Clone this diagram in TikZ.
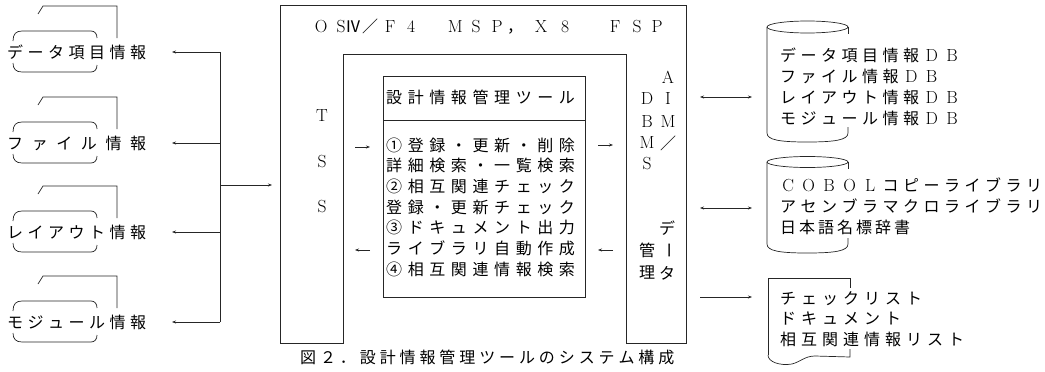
\documentclass[tikz,border=0pt]{standalone}
\usepackage{fontspec}
\newfontfamily\jp{Noto Sans CJK JP}
\usetikzlibrary{arrows.meta}
\newlength\pitch
\def\spcloop#1{\ifx\relax#1\else\makebox[\pitch][c]{#1}\expandafter\spcloop\fi}
\newcommand\spcline[2]{\setlength\pitch{#1pt}\spcloop#2\relax}
\newcommand\lt[1]{{\rmfamily\fontsize{17.5}{17.5}\selectfont #1}}
\newcommand\cw[2]{\makebox[#1pt][c]{#2}}
\newcommand\jpf{\jp\fontsize{16}{16}\selectfont}
% name, y, glyph start x, pitch, text
\newcommand\tline[5]{\node[txt,anchor=west] (#1) at ({#3-(#4-16)/2},#2) {\spcline{#4}{#5}};}
% name, y, pitch, text
\newcommand\leftitem[4]{%
  \draw[ln] (38,#2-38) -- (43,#2-46) -- (117,#2-46) -- (117,#2-14);
  \draw[ln] (13,#2-11) .. controls (13,#2-18) and (16,#2-21) .. (22,#2-21) -- (91,#2-21) .. controls (95,#2-21) and (97,#2-18) .. (97,#2-14);
  \draw[ln] (13,#2+11) .. controls (13,#2+17) and (16,#2+20) .. (22,#2+20) -- (91,#2+20) .. controls (95,#2+20) and (97,#2+17) .. (97,#2+13);
  \tline{#1}{#2}{7}{#3}{#4}%
}
\tikzset{
  ln/.style={line width=0.7pt, black!85},
  txt/.style={inner sep=0pt, font=\jpf, text=black},
  arr/.style={ln, -{Stealth[length=4pt,width=3pt]}},
  darr/.style={ln, {Stealth[length=4pt,width=3pt]}-{Stealth[length=4pt,width=3pt]}}
}
\begin{document}
\begin{tikzpicture}[x=1pt,y=-1pt]
\useasboundingbox (0,0) rectangle (1045,372);
% ---------- left items
\leftitem{li1}{52}{20.5}{データ項目情報}
\leftitem{li2}{143}{24.6}{ファイル情報}
\leftitem{li3}{232}{20.5}{レイアウト情報}
\leftitem{li4}{322}{20.5}{モジュール情報}
\coordinate (j1) at (220,52);
\coordinate (j2) at (220,143);
\coordinate (j3) at (220,232);
\coordinate (j4) at (220,322);
\coordinate (jm) at (220,185);
\coordinate (a1) at (172,52);
\coordinate (a2) at (172,143);
\coordinate (a3) at (172,232);
\coordinate (a4) at (172,322);
\coordinate (am) at (272,185);
\draw[ln] (j1) -- (j4);
\draw[arr] (j1) -- (a1);
\draw[arr] (j2) -- (a2);
\draw[arr] (j3) -- (a3);
\draw[arr] (j4) -- (a4);
\draw[arr] (jm) -- (am);
% ---------- central frame
\draw[ln] (280,5) -- (686,5) -- (686,343) -- (626,343) -- (626,54) -- (343,54) -- (343,343) -- (280,343) -- cycle;
\node[txt,anchor=west] (title) at (311,27) {\cw{20}{\lt O}\cw{20}{\lt S}\cw{4}{Ⅳ}\cw{30}{／}\cw{10}{\lt F}\cw{32}{\lt 4}\cw{18}{}\cw{20}{\lt M}\cw{22}{\lt S}\cw{20}{\lt P}\cw{16}{，}\cw{36}{\lt X}\cw{12}{\lt 8}\cw{34}{}\cw{20}{\lt F}\cw{24}{\lt S}\cw{16}{\lt P}};
% TSS
\node[txt] (t1) at (322,116) {\lt T};
\node[txt] (t2) at (322,162) {\lt S};
\node[txt] (t3) at (322,207) {\lt S};
% DBMS / AIM
\node[txt] (d1) at (647,99) {\lt D};
\node[txt] (d2) at (647,122) {\lt B};
\node[txt] (d3) at (647,143) {\lt M};
\node[txt] (d4) at (647,164) {\lt S};
\node[txt] (m1) at (668,77) {\lt A};
\node[txt] (m2) at (668,99) {\lt I};
\node[txt] (m3) at (668,122) {\lt M};
\node[txt] (m4) at (668,143) {／};
\node[txt] (k1) at (667,228) {デ};
\node[txt,rotate=-90] (k2) at (667,250) {ー};
\node[txt] (k3) at (667,273) {タ};
\node[txt] (k4) at (647,250) {管};
\node[txt] (k5) at (647,273) {理};
% inner tool box
\draw[ln] (383,76) rectangle (585,297);
\draw[ln] (383,120) -- (585,120);
\tline{hdr}{97}{386}{21.6}{設計情報管理ツール}
\tline{b1}{145}{386}{21.6}{①登録・更新・削除}
\tline{b2}{165.7}{386}{21.6}{詳細検索・一覧検索}
\tline{b3}{186.4}{386}{21.6}{②相互関連チェック}
\tline{b4}{207.1}{386}{21.6}{登録・更新チェック}
\tline{b5}{227.8}{386}{21.6}{③ドキュメント出力}
\tline{b6}{248.5}{386}{21.6}{ライブラリ自動作成}
\tline{b7}{269.2}{386}{21.6}{④相互関連情報検索}
% inner arrows
\coordinate (p1) at (355,147); \coordinate (p2) at (370,147);
\coordinate (p3) at (370,250); \coordinate (p4) at (355,250);
\coordinate (q1) at (598,145); \coordinate (q2) at (613,145);
\coordinate (q3) at (613,250); \coordinate (q4) at (598,250);
\draw[arr] (p1) -- (p2);
\draw[arr] (p3) -- (p4);
\draw[arr] (q1) -- (q2);
\draw[arr] (q3) -- (q4);
% caption
\tline{cap}{357}{300}{19.9}{図２．設計情報管理ツールのシステム構成}
% ---------- right side
\coordinate (r1a) at (700,97); \coordinate (r1b) at (752,97);
\coordinate (r2a) at (700,208); \coordinate (r2b) at (752,208);
\coordinate (r3a) at (700,297); \coordinate (r3b) at (752,297);
\draw[darr] (r1a) -- (r1b);
\draw[darr] (r2a) -- (r2b);
\draw[arr] (r3a) -- (r3b);
% cylinder 1
\draw[ln] (807.5,27) ellipse [x radius=40.5, y radius=6];
\draw[ln] (767,27) -- (767,133) .. controls (767,140) and (780,142) .. (807,142) .. controls (835,142) and (848,140) .. (848,133) -- (848,127);
\draw[ln] (848,27) -- (848,34);
\tline{c1}{55}{780}{20.5}{データ項目情報{\lt D}{\lt B}}
\tline{c2}{76}{780}{20.5}{ファイル情報{\lt D}{\lt B}}
\tline{c3}{97}{780}{20.5}{レイアウト情報{\lt D}{\lt B}}
\tline{c4}{118}{780}{20.5}{モジュール情報{\lt D}{\lt B}}
% cylinder 2
\draw[ln] (807.5,162) ellipse [x radius=40.5, y radius=5.5];
\draw[ln] (767,162) -- (767,244) .. controls (767,251) and (780,253) .. (807,253) .. controls (835,253) and (848,251) .. (848,244) -- (848,238);
\draw[ln] (848,162) -- (848,169);
\tline{e1}{185}{780}{20.5}{{\lt C}{\lt O}{\lt B}{\lt O}{\lt L}コピーライブラリ}
\tline{e2}{206}{780}{20.5}{アセンブラマクロライブラリ}
\tline{e3}{227}{780}{19}{日本語名標辞書}
% document
\draw[ln] (768,355) -- (768,278) -- (850,278) -- (850,288);
\draw[ln] (768,355) .. controls (768,362) and (780,366) .. (792,364) .. controls (800,362) and (805,356) .. (815,356) -- (850,357) -- (850,349);
\tline{f1}{299}{780}{21}{チェックリスト}
\tline{f2}{319}{780}{21}{ドキュメント}
\tline{f3}{339}{780}{21}{相互関連情報リスト}
\end{tikzpicture}
\end{document}
